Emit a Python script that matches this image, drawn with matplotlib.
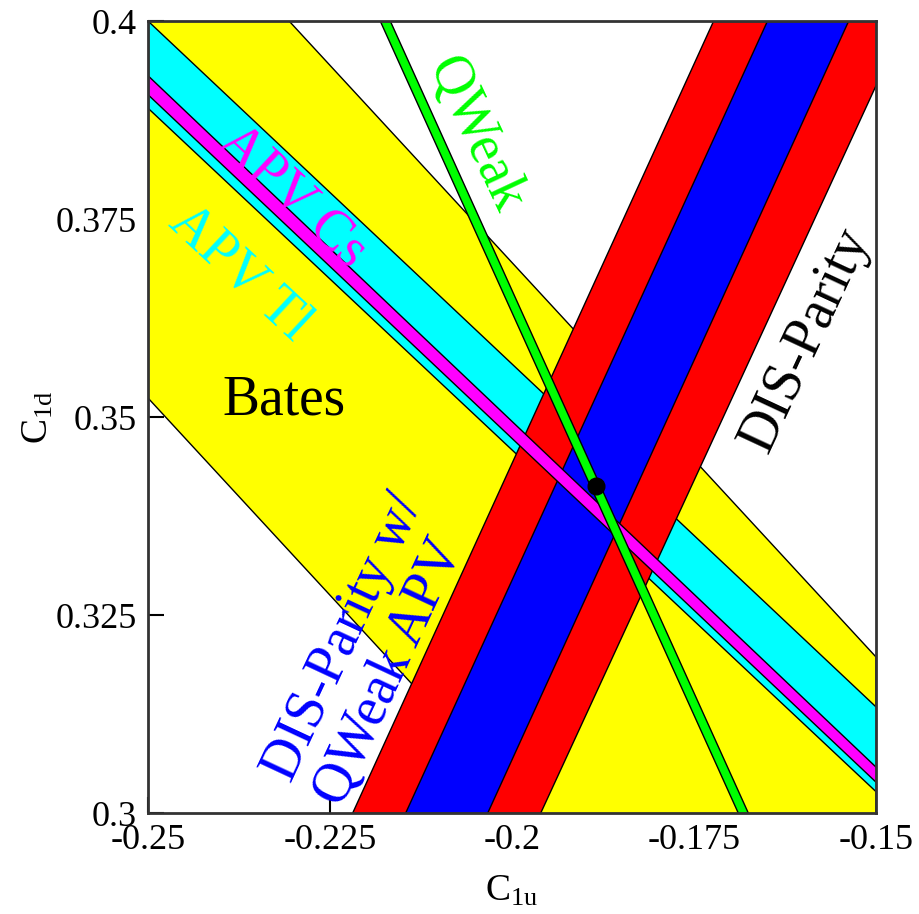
import matplotlib
matplotlib.use("Agg")
import matplotlib.pyplot as plt
import numpy as np

plt.rcParams['font.family'] = ['Liberation Serif', 'DejaVu Serif']
plt.rcParams['mathtext.fontset'] = 'custom'
plt.rcParams['mathtext.rm'] = 'Liberation Serif'
plt.rcParams['mathtext.it'] = 'Liberation Serif:italic'

# shallow bands: C1d at C1u = -0.25 and at C1u = -0.15, (edge1, edge2)
bates = [(0.4193, 0.3197), (0.3524, 0.2528)]
apv_tl = [(0.4000, 0.3134), (0.3890, 0.3027)]
apv_cs = [(0.3931, 0.3058), (0.3907, 0.3039)]

# steep bands: C1u at C1d = 0.3 and at C1d = 0.4, (edge1, edge2)
dis_outer = [(-0.22198, -0.1724), (-0.19615, -0.1460)]
dis_inner = [(-0.2147, -0.1650), (-0.20343, -0.15385)]
qweak = [(-0.16896, -0.21814), (-0.16758, -0.21676)]

# best fit point
fit_c1u = -0.18840
fit_c1d = 0.34129

xs = np.array([-0.25, -0.15])
ys = np.array([0.3, 0.4])

fig = plt.figure(figsize=(9.2, 9.14), dpi=100)
ax = fig.add_axes([148 / 920, 101 / 914, 728 / 920, 792 / 914])
ax.set_axisbelow(True)

edge = dict(edgecolor='black', linewidth=1.0)


def shallow(band, color, z):
    (a1, b1), (a2, b2) = band
    ax.fill_between(xs, [a1, b1], [a2, b2], facecolor=color, zorder=z, **edge)


def steep(band, color, z):
    (a1, b1), (a2, b2) = band
    ax.fill_betweenx(ys, [a1, b1], [a2, b2], facecolor=color, zorder=z, **edge)


shallow(bates, '#ffff00', 1)
shallow(apv_tl, '#00ffff', 2)
steep(dis_outer, '#ff0000', 3)
steep(dis_inner, '#0000ff', 4)
shallow(apv_cs, '#ff00ff', 5)
steep(qweak, '#00ff00', 6)
ax.plot([fit_c1u], [fit_c1d], 'o', color='black', ms=12, zorder=7)

big = 40
ax.text(-0.2050, 0.3856, 'QWeak', color='#00ff00', fontsize=big, rotation=-65,
        ha='center', va='center', rotation_mode='anchor', zorder=8)
ax.text(-0.2301, 0.3778, 'APV Cs', color='#ff00ff', fontsize=big, rotation=-43,
        ha='center', va='center', rotation_mode='anchor', zorder=8)
ax.text(-0.2374, 0.3682, 'APV Tl', color='#00ffff', fontsize=big, rotation=-43,
        ha='center', va='center', rotation_mode='anchor', zorder=8)
ax.text(-0.2313, 0.3521, 'Bates', color='black', fontsize=big,
        ha='center', va='center', zorder=8)
ax.text(-0.1597, 0.3597, 'DIS-Parity', color='black', fontsize=big, rotation=65,
        ha='center', va='center', rotation_mode='anchor', zorder=8)
ax.text(-0.2196, 0.3206, 'DIS-Parity w/\nQWeak APV', color='#0000ff',
        fontsize=big, rotation=65, ha='center', va='center',
        multialignment='left', rotation_mode='anchor', linespacing=1.1, zorder=8)

ax.set_xlim(-0.25, -0.15)
ax.set_ylim(0.3, 0.4)
ax.set_xticks([-0.25, -0.225, -0.2, -0.175, -0.15])
ax.set_xticklabels(['-0.25', '-0.225', '-0.2', '-0.175', '-0.15'])
ax.set_yticks([0.3, 0.325, 0.35, 0.375, 0.4])
ax.set_yticklabels(['0.3', '0.325', '0.35', '0.375', '0.4'])
ax.tick_params(direction='in', length=11.5, width=1.5, labelsize=26, pad=8,
               color='black')
for s in ax.spines.values():
    s.set_linewidth(2)
    s.set_color('#333333')
    s.set_zorder(9)

ax.set_xlabel(r'C$_{\mathrm{1u}}$', fontsize=27, labelpad=12)
ax.set_ylabel(r'C$_{\mathrm{1d}}$', fontsize=27, labelpad=0)

fig.savefig('out.png', dpi=100)
